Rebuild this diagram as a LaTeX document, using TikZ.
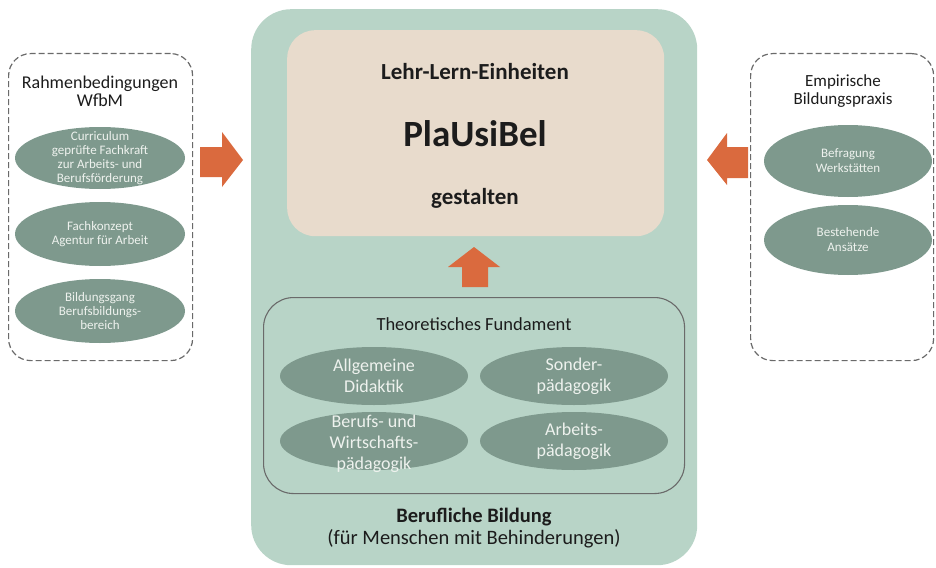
\documentclass[tikz,border=0pt]{standalone}
\usepackage{fontspec}
\setmainfont{Carlito}
\usetikzlibrary{shapes.geometric}

\definecolor{sage}{HTML}{B8D4C7}
\definecolor{sand}{HTML}{E8DBCC}
\definecolor{oval}{HTML}{7E998D}
\definecolor{ovaltext}{HTML}{EEF2EE}
\definecolor{accent}{HTML}{DA6A3E}
\definecolor{frame}{HTML}{6A6A6A}
\definecolor{inkdark}{HTML}{1C1C1C}

\tikzset{
  x=1pt, y=-1pt,
  panel/.style={draw=frame, dash pattern=on 6pt off 3pt, line width=1.2pt, rounded corners=22pt},
  title/.style={align=center, text=inkdark},
  sideoval/.style={ellipse, fill=oval, draw=none, minimum width=170pt, minimum height=62pt,
                   inner sep=0pt},
  sidetext/.style={align=center, text=ovaltext, inner sep=0pt,
                   font=\fontsize{13}{14}\selectfont},
  coreoval/.style={ellipse, fill=oval, draw=none, minimum width=188pt, minimum height=58pt,
                   inner sep=0pt},
  coretext/.style={align=center, text=ovaltext, inner sep=0pt,
                   font=\fontsize{18}{21}\selectfont},
  blockarrow/.style={fill=accent, draw=none},
}

\begin{document}
\begin{tikzpicture}
\useasboundingbox (0,0) rectangle (936,567);

% central area: vocational education
\node[fill=sage, rounded corners=40pt, minimum width=446pt, minimum height=556pt,
      inner sep=0pt, anchor=north west] (bildung) at (251,9) {};
\node[fill=sand, rounded corners=28pt, minimum width=377pt, minimum height=206pt,
      inner sep=0pt, anchor=north west] (einheit) at (287,30) {};
\node[font=\bfseries\fontsize{23}{26}\selectfont, text=inkdark] (lle) at (475,72) {Lehr-Lern-Einheiten};
\node[font=\bfseries\fontsize{37}{40}\selectfont, text=inkdark] (plausibel) at (475,134) {PlaUsiBel};
\node[font=\bfseries\fontsize{23}{26}\selectfont, text=inkdark] (gestalten) at (475,198) {gestalten};

% theoretical foundation
\node[draw=frame, line width=1.1pt, rounded corners=30pt, minimum width=421pt, minimum height=196pt,
      inner sep=0pt, anchor=north west] (fundament) at (263,297) {};
\node[font=\fontsize{18.5}{21}\selectfont, text=inkdark] (ftitle) at (474,324) {Theoretisches Fundament};
\node[coreoval] (didaktik) at (374,376) {};
\node[coretext] (didaktikT) at (didaktik) {Allgemeine\\Didaktik};
\node[coreoval] (sonder) at (574,376) {};
\node[coretext] (sonderT) at (sonder) {Sonder-\\pädagogik};
\node[coreoval] (berufs) at (374,441) {};
\node[coretext] (berufsT) at (374,444) {Berufs- und\\Wirtschafts-\\pädagogik};
\node[coreoval] (arbeits) at (574,441) {};
\node[coretext] (arbeitsT) at (arbeits) {Arbeits-\\pädagogik};

\node[align=center, text=inkdark, font=\fontsize{20.5}{22}\selectfont] (btitle) at (474,528)
  {\textbf{Berufliche Bildung}\\(für Menschen mit Behinderungen)};

% left panel: framework conditions
\node[panel, minimum width=184pt, minimum height=307pt, inner sep=0pt, anchor=north west] (rahmen) at (8,53) {};
\node[title, font=\fontsize{18}{18}\selectfont] (rtitle) at (100,91) {Rahmenbedingungen\\WfbM};
\node[sideoval] (curr) at (100,158) {};
\node[sidetext] (currT) at (curr) {Curriculum\\geprüfte Fachkraft\\zur Arbeits- und\\Berufsförderung};
\node[sideoval, minimum height=64pt] (fach) at (100,234) {};
\node[sidetext] (fachT) at (fach) {Fachkonzept\\Agentur für Arbeit};
\node[sideoval, minimum height=64pt] (gang) at (100,311) {};
\node[sidetext] (gangT) at (gang) {Bildungsgang\\Berufsbildungs-\\bereich};

% right panel: empirical practice
\node[panel, minimum width=183pt, minimum height=307pt, inner sep=0pt, anchor=north west] (empirie) at (750,53) {};
\node[title, font=\fontsize{17}{18}\selectfont] (etitle) at (843,91) {Empirische\\Bildungspraxis};
\node[sideoval, minimum width=168pt, minimum height=72pt] (befr) at (848,161) {};
\node[sidetext, font=\fontsize{13}{15}\selectfont] (befrT) at (befr) {Befragung\\Werkstätten};
\node[sideoval, minimum width=168pt, minimum height=70pt] (anst) at (848,240) {};
\node[sidetext, font=\fontsize{13}{15}\selectfont] (anstT) at (anst) {Bestehende\\Ansätze};

% block arrows
\fill[blockarrow] (200,147) -- (222,147) -- (222,132) -- (243,160) -- (222,187)
  -- (222,177) -- (200,177) -- cycle;
\fill[blockarrow] (748,147) -- (727,147) -- (727,133) -- (707,160) -- (727,185)
  -- (727,178) -- (748,178) -- cycle;
\fill[blockarrow] (462,287) -- (462,267) -- (448,267) -- (474,247) -- (500,267)
  -- (488,267) -- (488,287) -- cycle;
\end{tikzpicture}
\end{document}
